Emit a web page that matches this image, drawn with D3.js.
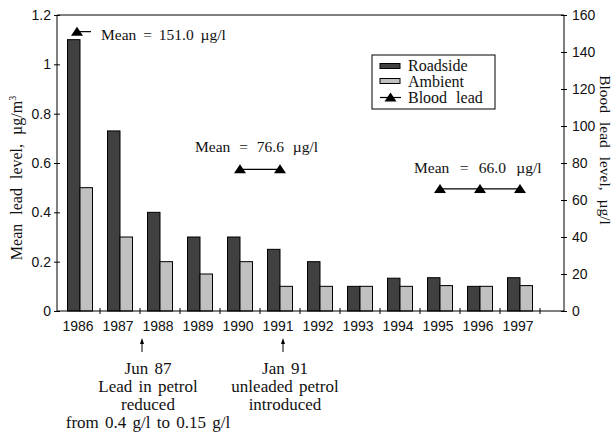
<!DOCTYPE html>
<html>
<head>
<meta charset="utf-8">
<script src="https://cdn.jsdelivr.net/npm/d3@7/dist/d3.min.js"></script>
<style>
  html, body { margin: 0; padding: 0; background: #fff; }
  svg { display: block; }
  .serif { font-family: "Liberation Serif", "Times New Roman", serif; fill: #111; }
  .sans { font-family: "Liberation Sans", Arial, sans-serif; fill: #111; }
</style>
</head>
<body>
<svg id="chart" width="613" height="432"></svg>
<script>
// ---- data ----
const years = [1986, 1987, 1988, 1989, 1990, 1991, 1992, 1993, 1994, 1995, 1996, 1997];
const roadside = [1.10, 0.73, 0.40, 0.30, 0.30, 0.25, 0.20, 0.10, 0.133, 0.135, 0.10, 0.135];
const ambient  = [0.50, 0.30, 0.20, 0.15, 0.20, 0.10, 0.10, 0.10, 0.10, 0.103, 0.10, 0.103];
const bloodGroups = [
  { years: [1986], values: [151.0], label: "Mean = 151.0 µg/l" },
  { years: [1990, 1991], values: [76.6, 76.6], label: "Mean = 76.6 µg/l" },
  { years: [1995, 1996, 1997], values: [66.0, 66.0, 66.0], label: "Mean = 66.0 µg/l" }
];
const leftTicks = [0, 0.2, 0.4, 0.6, 0.8, 1.0, 1.2];
const rightTicks = [0, 20, 40, 60, 80, 100, 120, 140, 160];
const legendLabels = ["Roadside", "Ambient", "Blood lead"];
const yLeftTitle = "Mean lead level, µg/m";
const yRightTitle = "Blood lead level, µg/l";
const annotations = [
  { at: 1987.5, lines: ["Jun 87", "Lead in petrol", "reduced", "from 0.4 g/l to 0.15 g/l"] },
  { at: 1991, lines: ["Jan 91", "unleaded petrol", "introduced"] }
];

// ---- layout ----
const svg = d3.select("#chart");
const axL = 57, axR = 564, axT = 15, axB = 311;
const DARK = "#404040", LIGHT = "#c0c0c0";

const x = d3.scaleBand().domain(years).range([60, 540]).padding(0);
const yL = d3.scaleLinear().domain([0, 1.2]).range([axB, axT]);
const yR = d3.scaleLinear().domain([0, 160]).range([axB, axT]);
const cx = y => x(y) + x.bandwidth() / 2;
const bw = 12.5;

// frame top
svg.append("line").attr("x1", axL).attr("x2", axR).attr("y1", axT).attr("y2", axT)
  .attr("stroke", "#000").attr("stroke-width", 1);

// bars
const gBars = svg.append("g");
gBars.selectAll("rect.road").data(years).join("rect")
  .attr("x", (d) => cx(d) - bw).attr("width", bw)
  .attr("y", (d, i) => yL(roadside[i])).attr("height", (d, i) => axB - yL(roadside[i]))
  .attr("fill", DARK).attr("stroke", "#000").attr("stroke-width", 1);
gBars.selectAll("rect.amb").data(years).join("rect")
  .attr("x", (d) => cx(d)).attr("width", bw)
  .attr("y", (d, i) => yL(ambient[i])).attr("height", (d, i) => axB - yL(ambient[i]))
  .attr("fill", LIGHT).attr("stroke", "#000").attr("stroke-width", 1);

// left axis
const gL = svg.append("g").attr("transform", `translate(${axL},0)`)
  .call(d3.axisLeft(yL).tickValues(leftTicks).tickSize(3).tickPadding(3)
    .tickFormat(d => String(+d.toFixed(1))));
gL.select(".domain").attr("d", `M0,${axT}V${axB}`);
gL.selectAll(".tick line").attr("x1", 3).attr("x2", -3);
gL.selectAll(".tick text").attr("class", "sans").style("font-size", "14px").attr("fill", "#111");

// right axis
const gR = svg.append("g").attr("transform", `translate(${axR},0)`)
  .call(d3.axisRight(yR).tickValues(rightTicks).tickSize(3).tickPadding(5));
gR.select(".domain").attr("d", `M0,${axT}V${axB}`);
gR.selectAll(".tick line").attr("x1", -3).attr("x2", 3);
gR.selectAll(".tick text").attr("class", "sans").style("font-size", "14px").attr("fill", "#111");

// bottom axis
svg.append("line").attr("x1", axL).attr("x2", axR).attr("y1", axB).attr("y2", axB)
  .attr("stroke", "#000");
const boundaries = years.slice(1).map(y => x(y)).concat([x(years[years.length - 1]) + x.bandwidth()]);
svg.append("g").selectAll("line").data(boundaries).join("line")
  .attr("x1", d => d).attr("x2", d => d).attr("y1", axB - 3).attr("y2", axB + 3)
  .attr("stroke", "#000");
svg.append("g").selectAll("text").data(years).join("text")
  .attr("class", "sans").attr("x", d => cx(d) - 2).attr("y", 331)
  .attr("text-anchor", "middle").style("font-size", "14px").text(d => d);

// blood lead
const triPath = "M-6,4L6,4L0,-5Z";
const gB = svg.append("g");
bloodGroups.forEach((g, gi) => {
  const pts = g.years.map((yr, i) => [cx(yr), yR(g.values[i])]);
  if (pts.length > 1) {
    gB.append("path").attr("d", d3.line()(pts)).attr("fill", "none")
      .attr("stroke", "#000").attr("stroke-width", 1.2);
  } else {
    gB.append("line").attr("x1", pts[0][0] - 3).attr("x2", pts[0][0] + 11)
      .attr("y1", pts[0][1]).attr("y2", pts[0][1]).attr("stroke", "#000").attr("stroke-width", 1.2);
  }
  gB.selectAll(null).data(pts).join("path")
    .attr("transform", (p, i) => `translate(${pts.length > 1 ? p[0] : p[0] - 3},${p[1]})`)
    .attr("d", triPath).attr("fill", "#000");
});
// mean labels
const meanPos = [[101, 40], [195, 152], [414, 173]];
const meanSpacing = ["3px", "5px", "6.5px"];
svg.append("g").selectAll("text").data(bloodGroups).join("text")
  .attr("class", "serif").attr("x", (d, i) => meanPos[i][0]).attr("y", (d, i) => meanPos[i][1])
  .style("font-size", "15.5px").style("word-spacing", (d, i) => meanSpacing[i]).text(d => d.label);

// legend
const lg = svg.append("g");
lg.append("rect").attr("x", 372).attr("y", 55).attr("width", 123).attr("height", 54)
  .attr("fill", "#fff").attr("stroke", "#000").attr("stroke-width", 1);
const legBase = [71, 87, 103];
lg.append("rect").attr("x", 380).attr("y", 63.5).attr("width", 20).attr("height", 5)
  .attr("fill", DARK).attr("stroke", "#000");
lg.append("rect").attr("x", 380).attr("y", 78.5).attr("width", 20).attr("height", 5)
  .attr("fill", LIGHT).attr("stroke", "#000");
lg.append("line").attr("x1", 380).attr("x2", 401).attr("y1", 97.5).attr("y2", 97.5)
  .attr("stroke", "#000").attr("stroke-width", 1.2);
lg.append("path").attr("transform", "translate(390.5,97.5)").attr("d", triPath).attr("fill", "#000");
lg.selectAll("text").data(legendLabels).join("text")
  .attr("class", "serif").attr("x", 408).attr("y", (d, i) => legBase[i])
  .style("font-size", "16px").style("word-spacing", "5px").text(d => d);

// axis titles
const tl = svg.append("text").attr("class", "serif")
  .attr("transform", "translate(22,178) rotate(-90)").attr("text-anchor", "middle")
  .style("font-size", "16px").style("word-spacing", "5px");
tl.append("tspan").text(yLeftTitle);
tl.append("tspan").attr("dy", -6).style("font-size", "10px").text("3");

svg.append("text").attr("class", "serif")
  .attr("transform", "translate(600,150) rotate(90)").attr("text-anchor", "middle")
  .style("font-size", "15.5px").style("word-spacing", "5px").text(yRightTitle);

// annotations
const annCx = [148, 285];
const arrowX = [142, 283];
annotations.forEach((a, ai) => {
  const ax = arrowX[ai];
  svg.append("line").attr("x1", ax).attr("x2", ax).attr("y1", 352).attr("y2", 341)
    .attr("stroke", "#000").attr("stroke-width", 1);
  svg.append("path").attr("d", `M${ax - 2},${344}L${ax},${338}L${ax + 2},${344}Z`).attr("fill", "#000");
  svg.append("g").selectAll("text").data(a.lines).join("text")
    .attr("class", "serif").attr("x", annCx[ai]).attr("y", (d, i) => 374 + i * 18)
    .attr("text-anchor", "middle").style("font-size", "17px").style("word-spacing", "2px")
    .text(d => d);
});
</script>
</body>
</html>
